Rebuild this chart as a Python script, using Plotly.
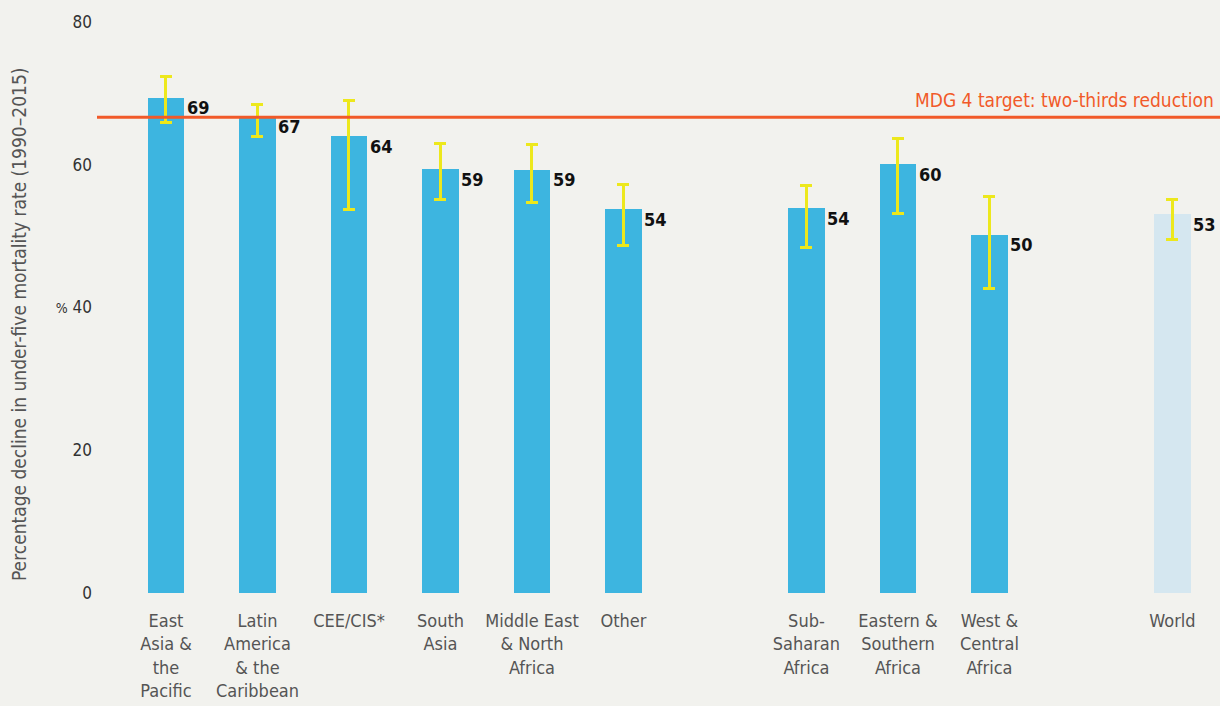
import plotly.graph_objects as go

# Regions, in three groups separated by a gap on the axis
groups = [
    ["East<br>Asia &<br>the<br>Pacific", "Latin<br>America<br>& the<br>Caribbean", "CEE/CIS*",
     "South<br>Asia", "Middle East<br>& North<br>Africa", "Other"],
    ["Sub-<br>Saharan<br>Africa", "Eastern &<br>Southern<br>Africa", "West &<br>Central<br>Africa"],
    ["World"],
]
decline = [69.4, 66.8, 64.0, 59.4, 59.3, 53.8, 53.9, 60.1, 50.2, 53.1]
upper = [72.4, 68.5, 69.0, 63.0, 62.8, 57.2, 57.1, 63.7, 55.6, 55.1]
lower = [65.9, 64.0, 53.8, 55.1, 54.7, 48.7, 48.4, 53.2, 42.6, 49.5]
target = 200 / 3  # two-thirds reduction

BG = "#f2f2ee"
BLUE = "#3db5e0"
WORLD = "#d5e7f0"
ORANGE = "#f15a29"
YELLOW = "#ede81c"
NARROW = "Liberation Sans Narrow, DejaVu Sans Condensed, Roboto, sans-serif"

labels, xpos = [], []
p = 0
for g in groups:
    for name in g:
        labels.append(name)
        xpos.append(p)
        p += 1
    p += 1

colors = [WORLD if l == "World" else BLUE for l in labels]

fig = go.Figure()
fig.add_trace(go.Bar(
    x=xpos, y=decline, width=0.4,
    marker=dict(color=colors, line=dict(width=0)),
    error_y=dict(type="data", symmetric=False,
                 array=[u - v for u, v in zip(upper, decline)],
                 arrayminus=[v - l for v, l in zip(decline, lower)],
                 color=YELLOW, thickness=3, width=6),
    hoverinfo="skip",
))

for x, v in zip(xpos, decline):
    fig.add_annotation(x=x, y=v, text=f"<b>{v:.0f}</b>", showarrow=False,
                       xanchor="left", yanchor="middle", xshift=19, yshift=-10,
                       font=dict(family=NARROW, size=18, color="#111"))

# MDG target line
fig.add_shape(type="line", xref="paper", x0=0, x1=1, y0=target, y1=target,
              line=dict(color=ORANGE, width=3))
fig.add_annotation(xref="paper", x=1, y=target, text="MDG 4 target: two-thirds reduction",
                   showarrow=False, xanchor="right", yanchor="bottom", xshift=-4, yshift=4,
                   font=dict(family=NARROW, size=19, color=ORANGE))

# y-axis title
fig.add_annotation(xref="paper", yref="paper", x=-0.07, y=0.47, xanchor="center", yanchor="middle",
                   text="Percentage decline in under-five mortality rate (1990–2015)", textangle=-90,
                   showarrow=False, font=dict(family=NARROW, size=19, color="#555"))

fig.update_layout(
    width=1220, height=706,
    paper_bgcolor=BG, plot_bgcolor=BG,
    margin=dict(l=97, r=0, t=22, b=113),
    showlegend=False,
    bargap=0,
    xaxis=dict(range=[-0.754, 11.52], tickvals=xpos, ticktext=labels, showgrid=False,
               zeroline=False, showline=False, ticks="", ticklabelstandoff=15,
               tickfont=dict(family=NARROW, size=18, color="#555")),
    yaxis=dict(range=[0, 80], tickvals=[0, 20, 40, 60, 80],
               ticktext=["0", "20", "<span style='font-size:14px'>%</span> 40", "60", "80"],
               showgrid=False, zeroline=False, showline=False, ticks="", ticklabelstandoff=4,
               tickfont=dict(family=NARROW, size=17, color="#333")),
)

fig.write_html("out.html", config={"displayModeBar": False},
               post_script="document.body.style.margin='0';")
